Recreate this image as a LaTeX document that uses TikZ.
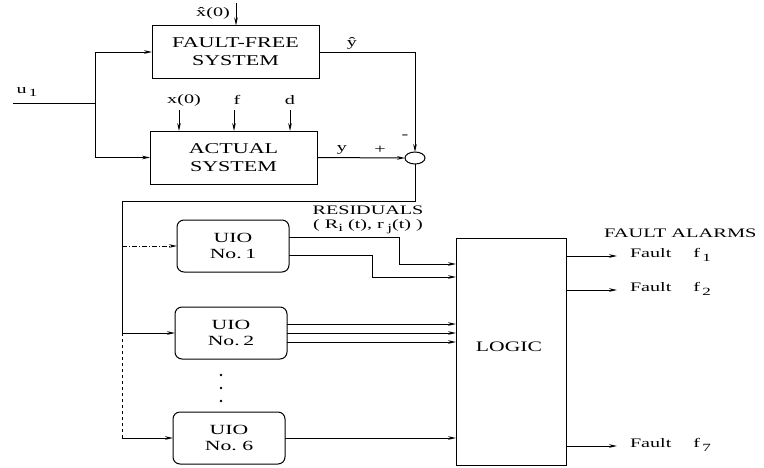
\documentclass[tikz,border=0pt]{standalone}
\usepackage{fontspec}
\usepackage{graphicx}
\setmainfont{Liberation Serif}
\usetikzlibrary{arrows.meta,shapes.geometric,calc}
\newcommand\sx[1]{\scalebox{1.55}[1]{#1}}
\newcommand\bx[1]{\scalebox{1.47}[1]{#1}}
\newcommand\lowsub[1]{{\fontsize{11}{11}\selectfont\raisebox{-3.5pt}{#1}}}
\begin{document}
\begin{tikzpicture}[x=1pt,y=-1pt,
  line width=1pt,
  font=\fontsize{13}{17}\selectfont,
  arr/.style={-{Stealth[length=8pt,width=3.6pt]}},
  sysbox/.style={draw,rectangle,minimum width=167pt,minimum height=53pt,inner sep=0pt,outer sep=0pt,align=center,font=\fontsize{15}{18}\selectfont},
  uiobox/.style={draw,rectangle,rounded corners=7pt,minimum width=112pt,minimum height=52pt,inner sep=0pt,outer sep=0pt,align=center,font=\fontsize{14}{16}\selectfont},
  lbl/.style={inner sep=0pt,outer sep=0pt}]
\useasboundingbox (0,0) rectangle (764,467);

% blocks
\node[sysbox] (ff) at (235.5,52) {\bx{FAULT-FREE}\\\bx{SYSTEM}};
\node[sysbox] (act) at (233.5,157.5) {\bx{ACTUAL}\\\bx{SYSTEM}};
\node[draw,ellipse,minimum width=20pt,minimum height=12pt,inner sep=0pt,outer sep=0pt] (sum) at (415,158) {};
\node[uiobox] (u1) at (233,246) {\sx{UIO}\\\sx{No.\,1}};
\node[uiobox] (u2) at (231,333) {\sx{UIO}\\\sx{No.\,2}};
\node[uiobox] (u6) at (229,438) {\sx{UIO}\\\sx{No.~6}};
\node[draw,rectangle,minimum width=110pt,minimum height=227pt,inner sep=0pt,outer sep=0pt] (logic) at (511,351.5) {};
\node[lbl,font=\fontsize{14.5}{17}\selectfont] (logictxt) at (509,347) {\scalebox{1.49}[1]{LOGIC}};

% input u
\coordinate (uin) at (13,103);
\coordinate (uj) at (95,103);
\draw (uin) -- (uj);
\draw[arr] (uj) |- (ff.west);
\draw[arr] (uj) |- (act.west);
\node[lbl] (ulbl) at (27,92) {\sx{u}\,\lowsub{\sx{1}}};

% x(0) into fault-free
\coordinate (xt) at (236,3);
\draw[arr] (xt) -- (xt |- ff.north);
\node[lbl] (xtl) at (213,13) {\sx{\^x(0)}};

% inputs into actual
\coordinate (ix) at (179,110);
\coordinate (if) at (234,110);
\coordinate (id) at (290,110);
\draw[arr] (ix) -- (ix |- act.north);
\draw[arr] (if) -- (if |- act.north);
\draw[arr] (id) -- (id |- act.north);
\node[lbl] (ixl) at (184,100) {\sx{x(0)}};
\node[lbl] (ifl) at (237,100) {\sx{f}};
\node[lbl] (idl) at (290,100) {\sx{d}};

% outputs to summation
\draw[arr] (ff.east) -| (sum.north);
\draw[arr] (act.east) -- (sum.west);
\node[lbl] (yhat) at (352,43) {\sx{ŷ}};
\node[lbl] (ylbl) at (342,150) {\sx{y}};
\node[lbl] (plus) at (380,150) {\sx{+}};
\node[lbl] (minus) at (405,137) {\sx{-}};

% residual distribution
\coordinate (c1) at (415,201);
\coordinate (c2) at (122,201);
\draw (sum.south) -- (c1) -- (c2) -- (c2 |- u2.west);
\draw[dashed] (c2 |- u2.west) -- (c2 |- u6.west);
\draw[arr,dash pattern=on 5pt off 2pt on 1pt off 2pt] (c2 |- u1.west) -- (u1.west);
\draw[arr] (c2 |- u2.west) -- (u2.west);
\draw[arr] (c2 |- u6.west) -- (u6.west);

% dots
\fill (221,375) circle (1.3pt);
\fill (221,388) circle (1.3pt);
\fill (221,401) circle (1.3pt);

% UIO outputs
\coordinate (b1) at (399,264);
\coordinate (b2) at (372,277);
\draw[arr] (u1.east |- 0,237) -| (b1) -- (logic.west |- b1);
\draw[arr] (u1.east |- 0,255) -| (b2) -- (logic.west |- b2);
\draw[arr] (u2.east |- 0,324) -- (logic.west |- 0,324);
\draw[arr] (u2.east |- 0,333) -- (logic.west |- 0,333);
\draw[arr] (u2.east |- 0,342) -- (logic.west |- 0,342);
\draw[arr] (u6.east) -- (logic.west |- u6.east);

\node[lbl,align=center,font=\fontsize{13}{14}\selectfont] (res) at (368,220) {\sx{RESIDUALS}\\\sx{( R\lowsub{i} (t), r\,\lowsub{j}(t) )}};

% fault alarms
\node[lbl,anchor=west] (fa) at (604,233) {\scalebox{1.57}[1]{FAULT ALARMS}};
\coordinate (o1) at (617,256);
\coordinate (o2) at (617,290);
\coordinate (o7) at (617,446);
\draw[arr] (logic.east |- o1) -- (o1);
\draw[arr] (logic.east |- o2) -- (o2);
\draw[arr] (logic.east |- o7) -- (o7);
\node[lbl,anchor=west] (f1) at (630,255) {\sx{Fault}\hspace{22pt}\sx{f}\,\lowsub{\sx{1}}};
\node[lbl,anchor=west] (f2) at (630,289) {\sx{Fault}\hspace{22pt}\sx{f}\,\lowsub{\sx{2}}};
\node[lbl,anchor=west] (f7) at (630,445) {\sx{Fault}\hspace{22pt}\sx{f}\,\lowsub{\sx{7}}};
\end{tikzpicture}
\end{document}
